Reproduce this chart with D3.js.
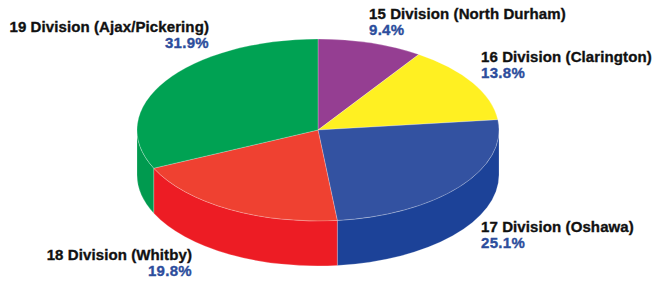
<html>
<head>
    <style>
        body { margin: 0; background: #fff; }
        text { font-family: "Liberation Sans", Arial, sans-serif; font-weight: bold; font-size: 15px; stroke-width: 0.35px; }
    </style>
    <script src="https://d3js.org/d3.v7.min.js"></script>
</head>
<body>
<svg id="chart" width="653" height="282"></svg>
<script>
    // data, clockwise from 12 o'clock
    var divisions = ["15 Division (North Durham)", "16 Division (Clarington)", "17 Division (Oshawa)",
        "18 Division (Whitby)", "19 Division (Ajax/Pickering)"];
    var shares = [9.4, 13.8, 25.1, 19.8, 31.9];
    var topColors = ["#953e92", "#fff022", "#3352a1", "#ef4131", "#00a253"];
    var sideColors = ["#7d2f7b", "#e3d400", "#1c4298", "#ed1c24", "#009a4f"];

    var svg = d3.select("#chart");
    var cx = 318, cy = 130, rx = 181, ry = 91, depth = 45;

    var pie = d3.pie().sort(null).value(function (d) { return d; });
    var arcs = pie(shares);

    function pt(a, dy) {
        return [cx + rx * Math.sin(a), cy - ry * Math.cos(a) + (dy || 0)];
    }

    // outer wall, only the front half (pi/2 .. 3pi/2) shows
    function sidePath(d) {
        var a0 = Math.max(d.startAngle, Math.PI / 2);
        var a1 = Math.min(d.endAngle, 3 * Math.PI / 2);
        if (a1 <= a0) return null;
        var p0 = pt(a0), p1 = pt(a1), q1 = pt(a1, depth), q0 = pt(a0, depth);
        return "M" + p0 + "A" + rx + "," + ry + " 0 0 1 " + p1 +
            "L" + q1 + "A" + rx + "," + ry + " 0 0 0 " + q0 + "Z";
    }

    var g = svg.append("g");

    g.selectAll("path.side")
        .data(arcs)
        .enter().append("path")
        .attr("class", "side")
        .attr("d", sidePath)
        .attr("fill", function (d, i) { return sideColors[i]; })
        .attr("stroke", "rgba(255,255,255,0.35)")
        .attr("stroke-width", 0.6);

    var arc = d3.arc().innerRadius(0).outerRadius(rx);

    g.append("g")
        .attr("transform", "translate(" + cx + "," + cy + ") scale(1," + (ry / rx) + ")")
        .selectAll("path")
        .data(arcs)
        .enter().append("path")
        .attr("d", arc)
        .attr("fill", function (d, i) { return topColors[i]; })
        .attr("stroke", "rgba(255,255,255,0.45)")
        .attr("stroke-width", 0.7);

    // label anchors (name baseline), percent sits 16px below
    var labelPos = [
        { x: 369, y: 19, anchor: "start" },
        { x: 481, y: 62, anchor: "start" },
        { x: 481, y: 232, anchor: "start" },
        { x: 192, y: 260, anchor: "end" },
        { x: 209, y: 32, anchor: "end" }
    ];

    var labels = svg.append("g").selectAll("g")
        .data(arcs)
        .enter().append("g")
        .attr("transform", function (d, i) { return "translate(" + labelPos[i].x + "," + labelPos[i].y + ")"; })
        .attr("text-anchor", function (d, i) { return labelPos[i].anchor; });

    labels.append("text")
        .attr("fill", "#111")
        .attr("stroke", "#111")
        .attr("letter-spacing", 0.1)
        .text(function (d, i) { return divisions[i]; });

    labels.append("text")
        .attr("y", 16)
        .attr("fill", "#2c4d9c")
        .attr("stroke", "#2c4d9c")
        .attr("letter-spacing", 0.3)
        .text(function (d) { return d3.format(".1f")(d.value) + "%"; });
</script>
</body>
</html>
